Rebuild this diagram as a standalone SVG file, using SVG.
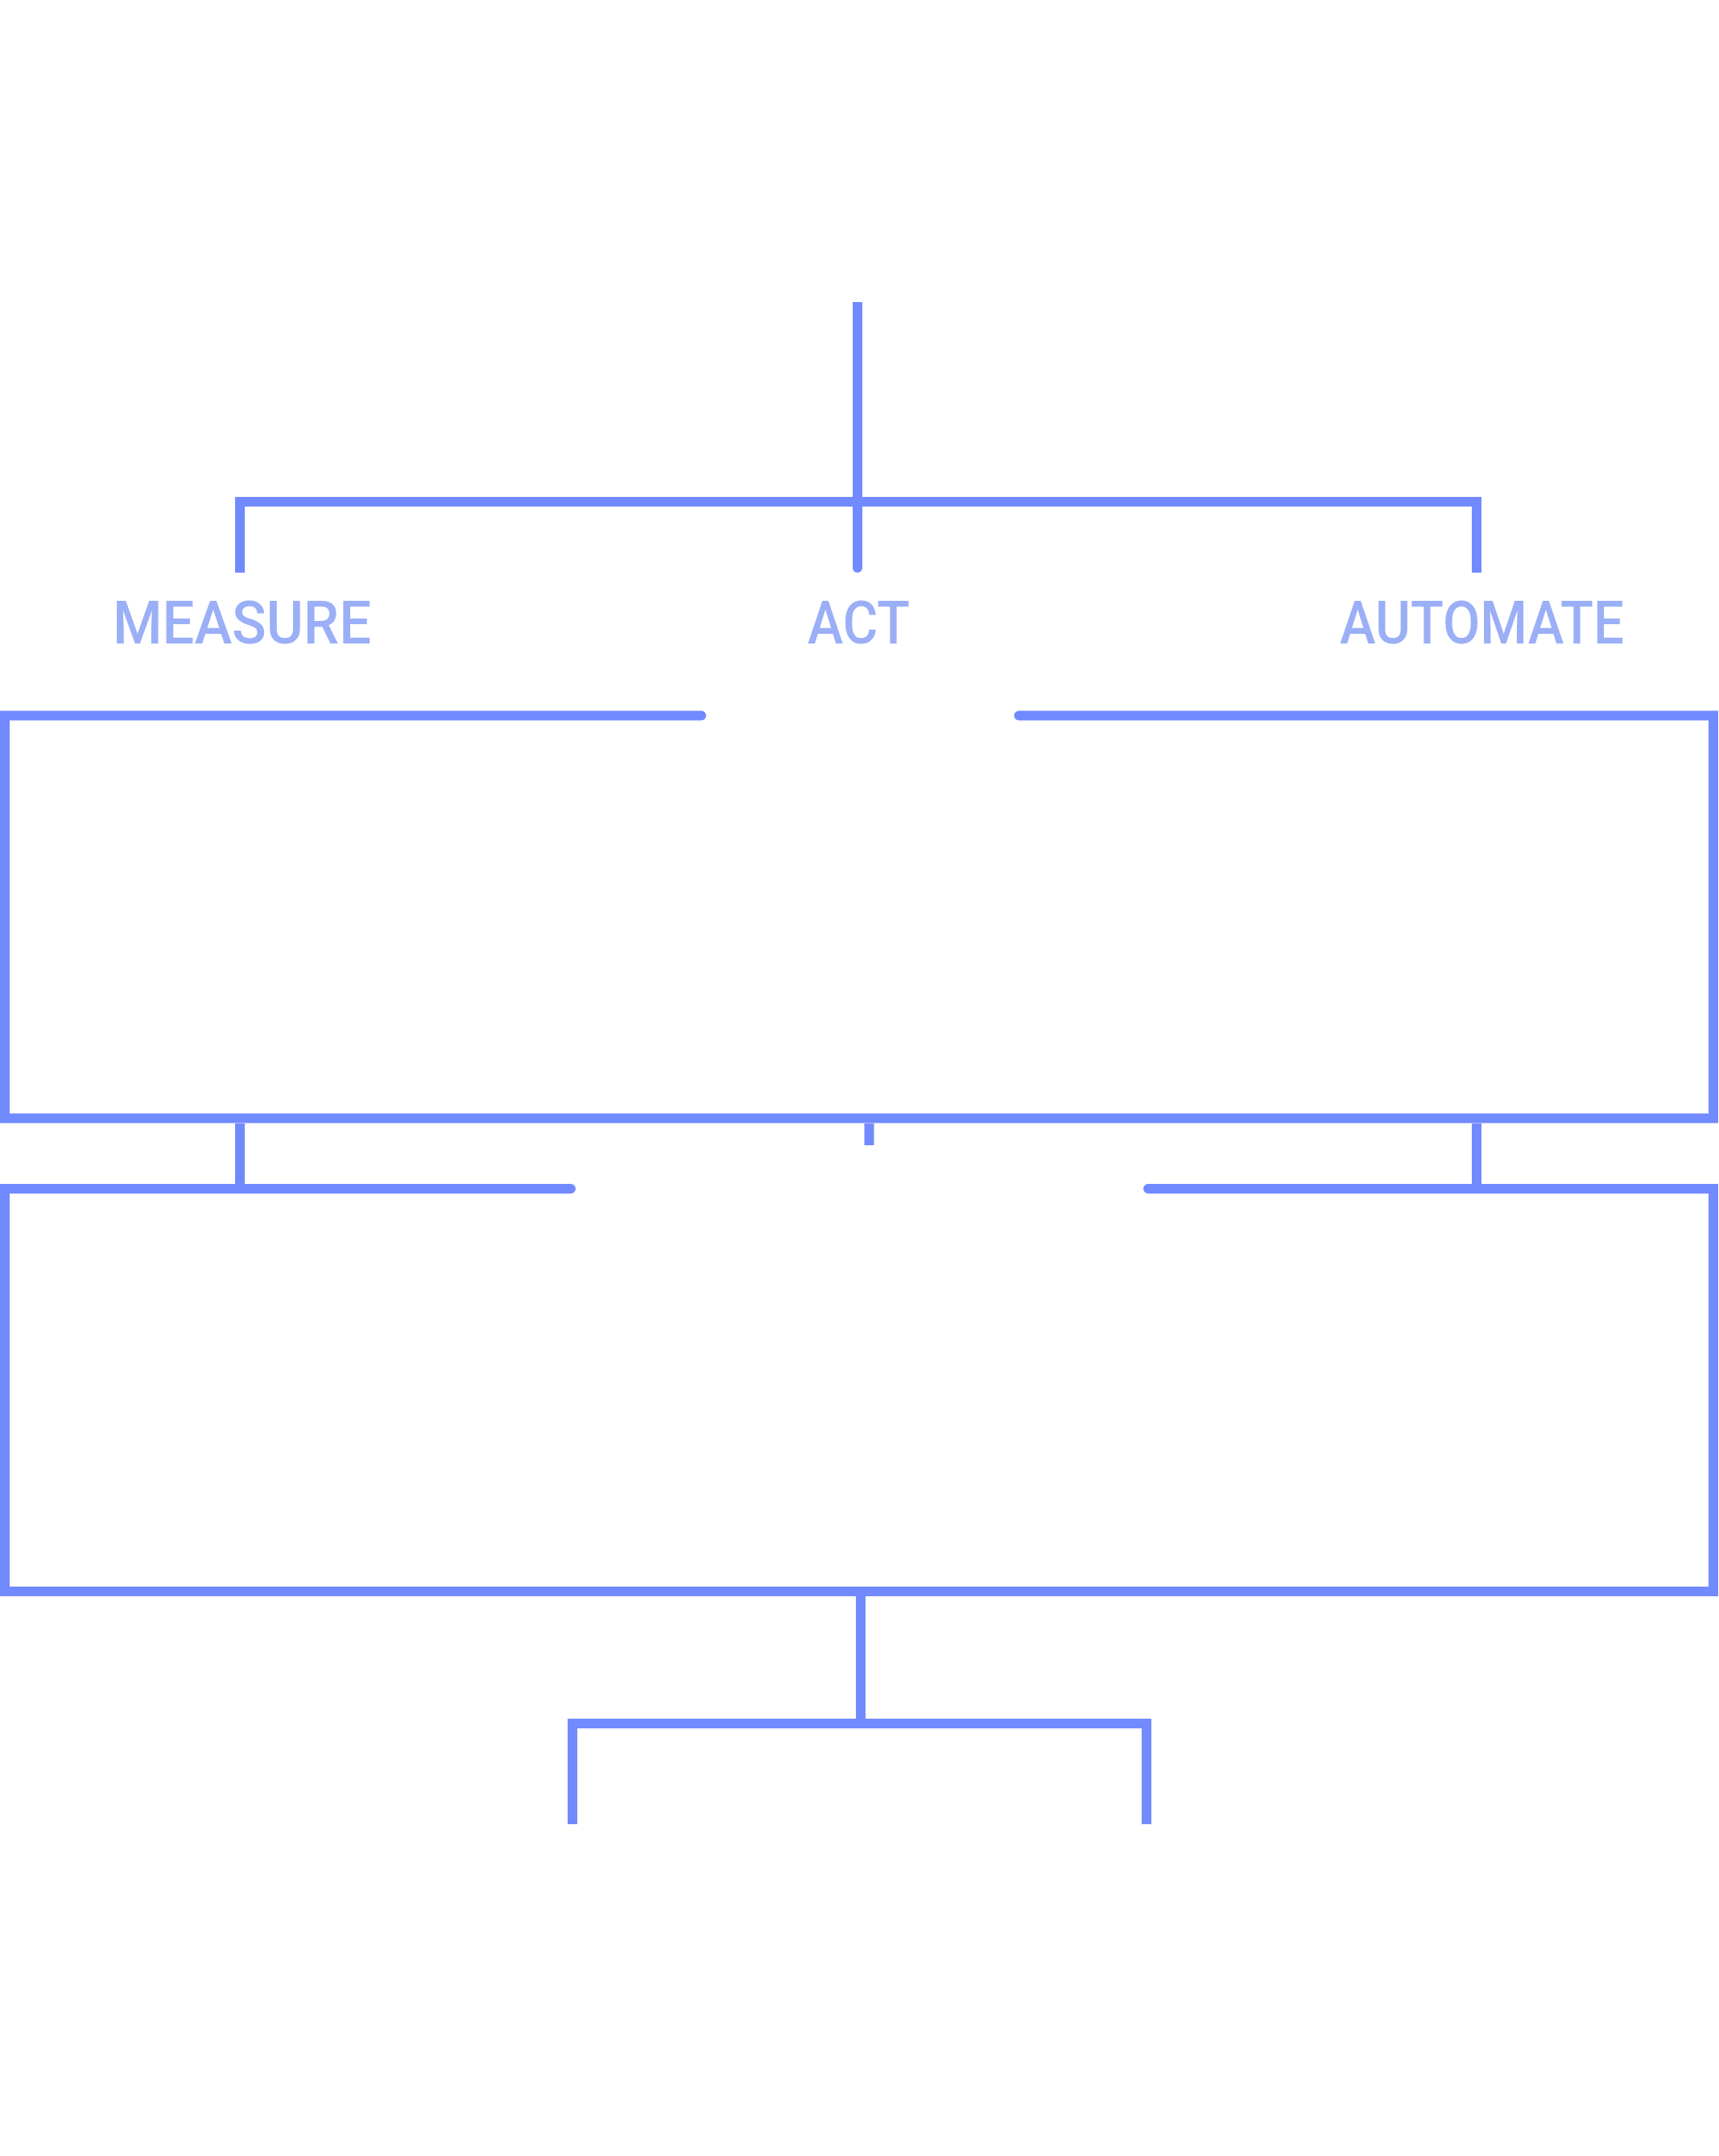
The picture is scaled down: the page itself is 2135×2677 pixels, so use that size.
<svg xmlns="http://www.w3.org/2000/svg" width="2135" height="2677" viewBox="0 0 2135 2677">
<style>
.ln{fill:none;stroke:#728AFF;stroke-width:12;stroke-linejoin:miter;stroke-linecap:butt}
.rc{stroke-linecap:round}
.lbl{font-family:Roboto,"Liberation Sans",sans-serif;font-weight:500;font-size:75px;fill:#9BAFF7}
</style>
<rect width="2135" height="2677" fill="#FFFFFF"/>
<g id="connectors">
<path class="ln" d="M1065,375 V623"/>
<path class="ln" d="M298,711 V623 H1834 V711"/>
<path class="ln rc" d="M1065,623 V705"/>
<path class="ln" d="M298,1395 V1470"/>
<path class="ln" d="M1834,1395 V1470"/>
<path class="ln" d="M1079.5,1395 V1422"/>
<path class="ln" d="M1069,1982 V2140"/>
<path class="ln" d="M711,2265 V2140 H1424 V2265"/>
</g>
<g id="measure"><text class="lbl" x="140" y="799" textLength="321" lengthAdjust="spacingAndGlyphs">MEASURE</text></g>
<g id="act"><text class="lbl" x="1003" y="799" textLength="127" lengthAdjust="spacingAndGlyphs">ACT</text></g>
<g id="automate"><text class="lbl" x="1664" y="799" textLength="353" lengthAdjust="spacingAndGlyphs">AUTOMATE</text></g>
<g id="box1"><path class="ln rc" d="M871,888.5 H6 V1388.5 H2128 V888.5 H1265.5"/></g>
<g id="box2"><path class="ln rc" d="M709,1476 H6 V1976 H2128 V1476 H1426"/></g>
</svg>
